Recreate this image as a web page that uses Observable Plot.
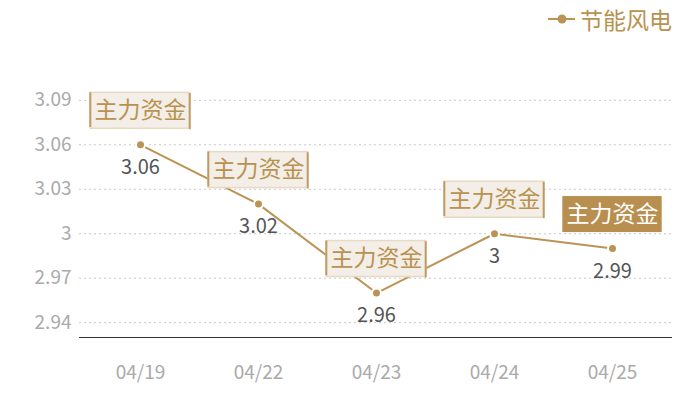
<!DOCTYPE html>
<html>
<head>
<meta charset="utf-8">
<script src="https://cdn.jsdelivr.net/npm/d3@7"></script>
<script src="https://cdn.jsdelivr.net/npm/@observablehq/plot@0.6"></script>
<style>
  html, body { margin: 0; padding: 0; background: #fff; }
  #wrap { position: relative; width: 700px; height: 400px; font-family: "Noto Sans CJK SC", "Noto Sans", sans-serif; }
  #legend { position: absolute; top: 2px; left: 548px; display: flex; align-items: center; color: #b8924f; font-size: 23px; }
  #legend svg { margin-right: 5px; }
</style>
</head>
<body>
<div id="wrap">
  <div id="chart"></div>
  <div id="legend"><svg width="27" height="12"><line x1="0" y1="6" x2="27" y2="6" stroke="#bb9455" stroke-width="2"/><circle cx="14" cy="6" r="4.5" fill="#bb9455"/></svg><span>节能风电</span></div>
</div>
<script>
const seriesName = "节能风电";
const dates = ["04/19", "04/22", "04/23", "04/24", "04/25"];
const prices = [3.06, 3.02, 2.96, 3.00, 2.99];
const tagLabels = ["主力资金", "主力资金", "主力资金", "主力资金", "主力资金"];
const highlighted = [false, false, false, false, true];
const yTicks = [2.94, 2.97, 3.00, 3.03, 3.06, 3.09];
const yDomain = [2.93, 3.10];

const data = dates.map((d, i) => ({date: d, price: prices[i], tag: tagLabels[i], hi: highlighted[i]}));
const normal = data.filter(d => !d.hi);
const hiData = data.filter(d => d.hi);

const W = 700, H = 400, ML = 79, MR = 28;
const bw = (W - ML - MR) / dates.length;
const boxW = 100, inset = (bw - boxW) / 2;
const fontFam = '"Noto Sans CJK SC", "Noto Sans", sans-serif';
const tan = "#bb9455";
const fmt = d => String(+d.toFixed(2));

const chart = Plot.plot({
  width: W, height: H,
  marginLeft: ML, marginRight: MR, marginTop: 85, marginBottom: 63,
  style: {fontFamily: fontFam, background: "transparent"},
  x: {type: "band", domain: dates, padding: 0, label: null},
  y: {domain: yDomain, label: null},
  marks: [
    Plot.ruleY(yTicks, {stroke: "#c8c8c8", strokeDasharray: "2,3", strokeWidth: 1}),
    Plot.ruleY([yDomain[0]], {stroke: "#333", strokeWidth: 1.2}),
    Plot.axisX({tickSize: 0, tickPadding: 28, fontSize: 19, fill: "#aaa", color: "#aaa", label: null}),
    Plot.axisY({ticks: yTicks, tickSize: 0, tickPadding: 8, fontSize: 19, fill: "#aaa", color: "#aaa", tickFormat: fmt, label: null}),
    Plot.line(data, {x: "date", y: "price", stroke: tan, strokeWidth: 2}),
    Plot.dot(data, {x: "date", y: "price", r: 4.5, fill: tan, stroke: "#fff", strokeWidth: 2}),
    Plot.text(data, {x: "date", y: "price", text: d => fmt(d.price), dy: 23, fontSize: 20, fill: "#555"}),
    // tag boxes (normal)
    Plot.rect(normal, {x: "date", y1: "price", y2: "price", insetLeft: inset, insetRight: inset, insetTop: -18, insetBottom: -18, dy: -34, fill: "#f3eee7", stroke: "#e8d9c3", strokeWidth: 1.5}),
    Plot.rect(normal, {x: "date", y1: "price", y2: "price", insetLeft: inset, insetRight: inset, insetTop: -18, insetBottom: -18, dy: -34, fill: "none", stroke: "#c29a60", strokeWidth: 2, strokeDasharray: `0 ${boxW} 36 ${boxW} 36`}),
    Plot.text(normal, {x: "date", y: "price", text: "tag", dy: -34, fontSize: 23, fill: "#b8924f"}),
    // highlighted tag box
    Plot.rect(hiData, {x: "date", y1: "price", y2: "price", insetLeft: inset, insetRight: inset, insetTop: -18, insetBottom: -18, dy: -34, fill: "#b88f4e"}),
    Plot.text(hiData, {x: "date", y: "price", text: "tag", dy: -34, fontSize: 23, fill: "#fff"})
  ]
});
document.getElementById("chart").appendChild(chart);
</script>
</body>
</html>
